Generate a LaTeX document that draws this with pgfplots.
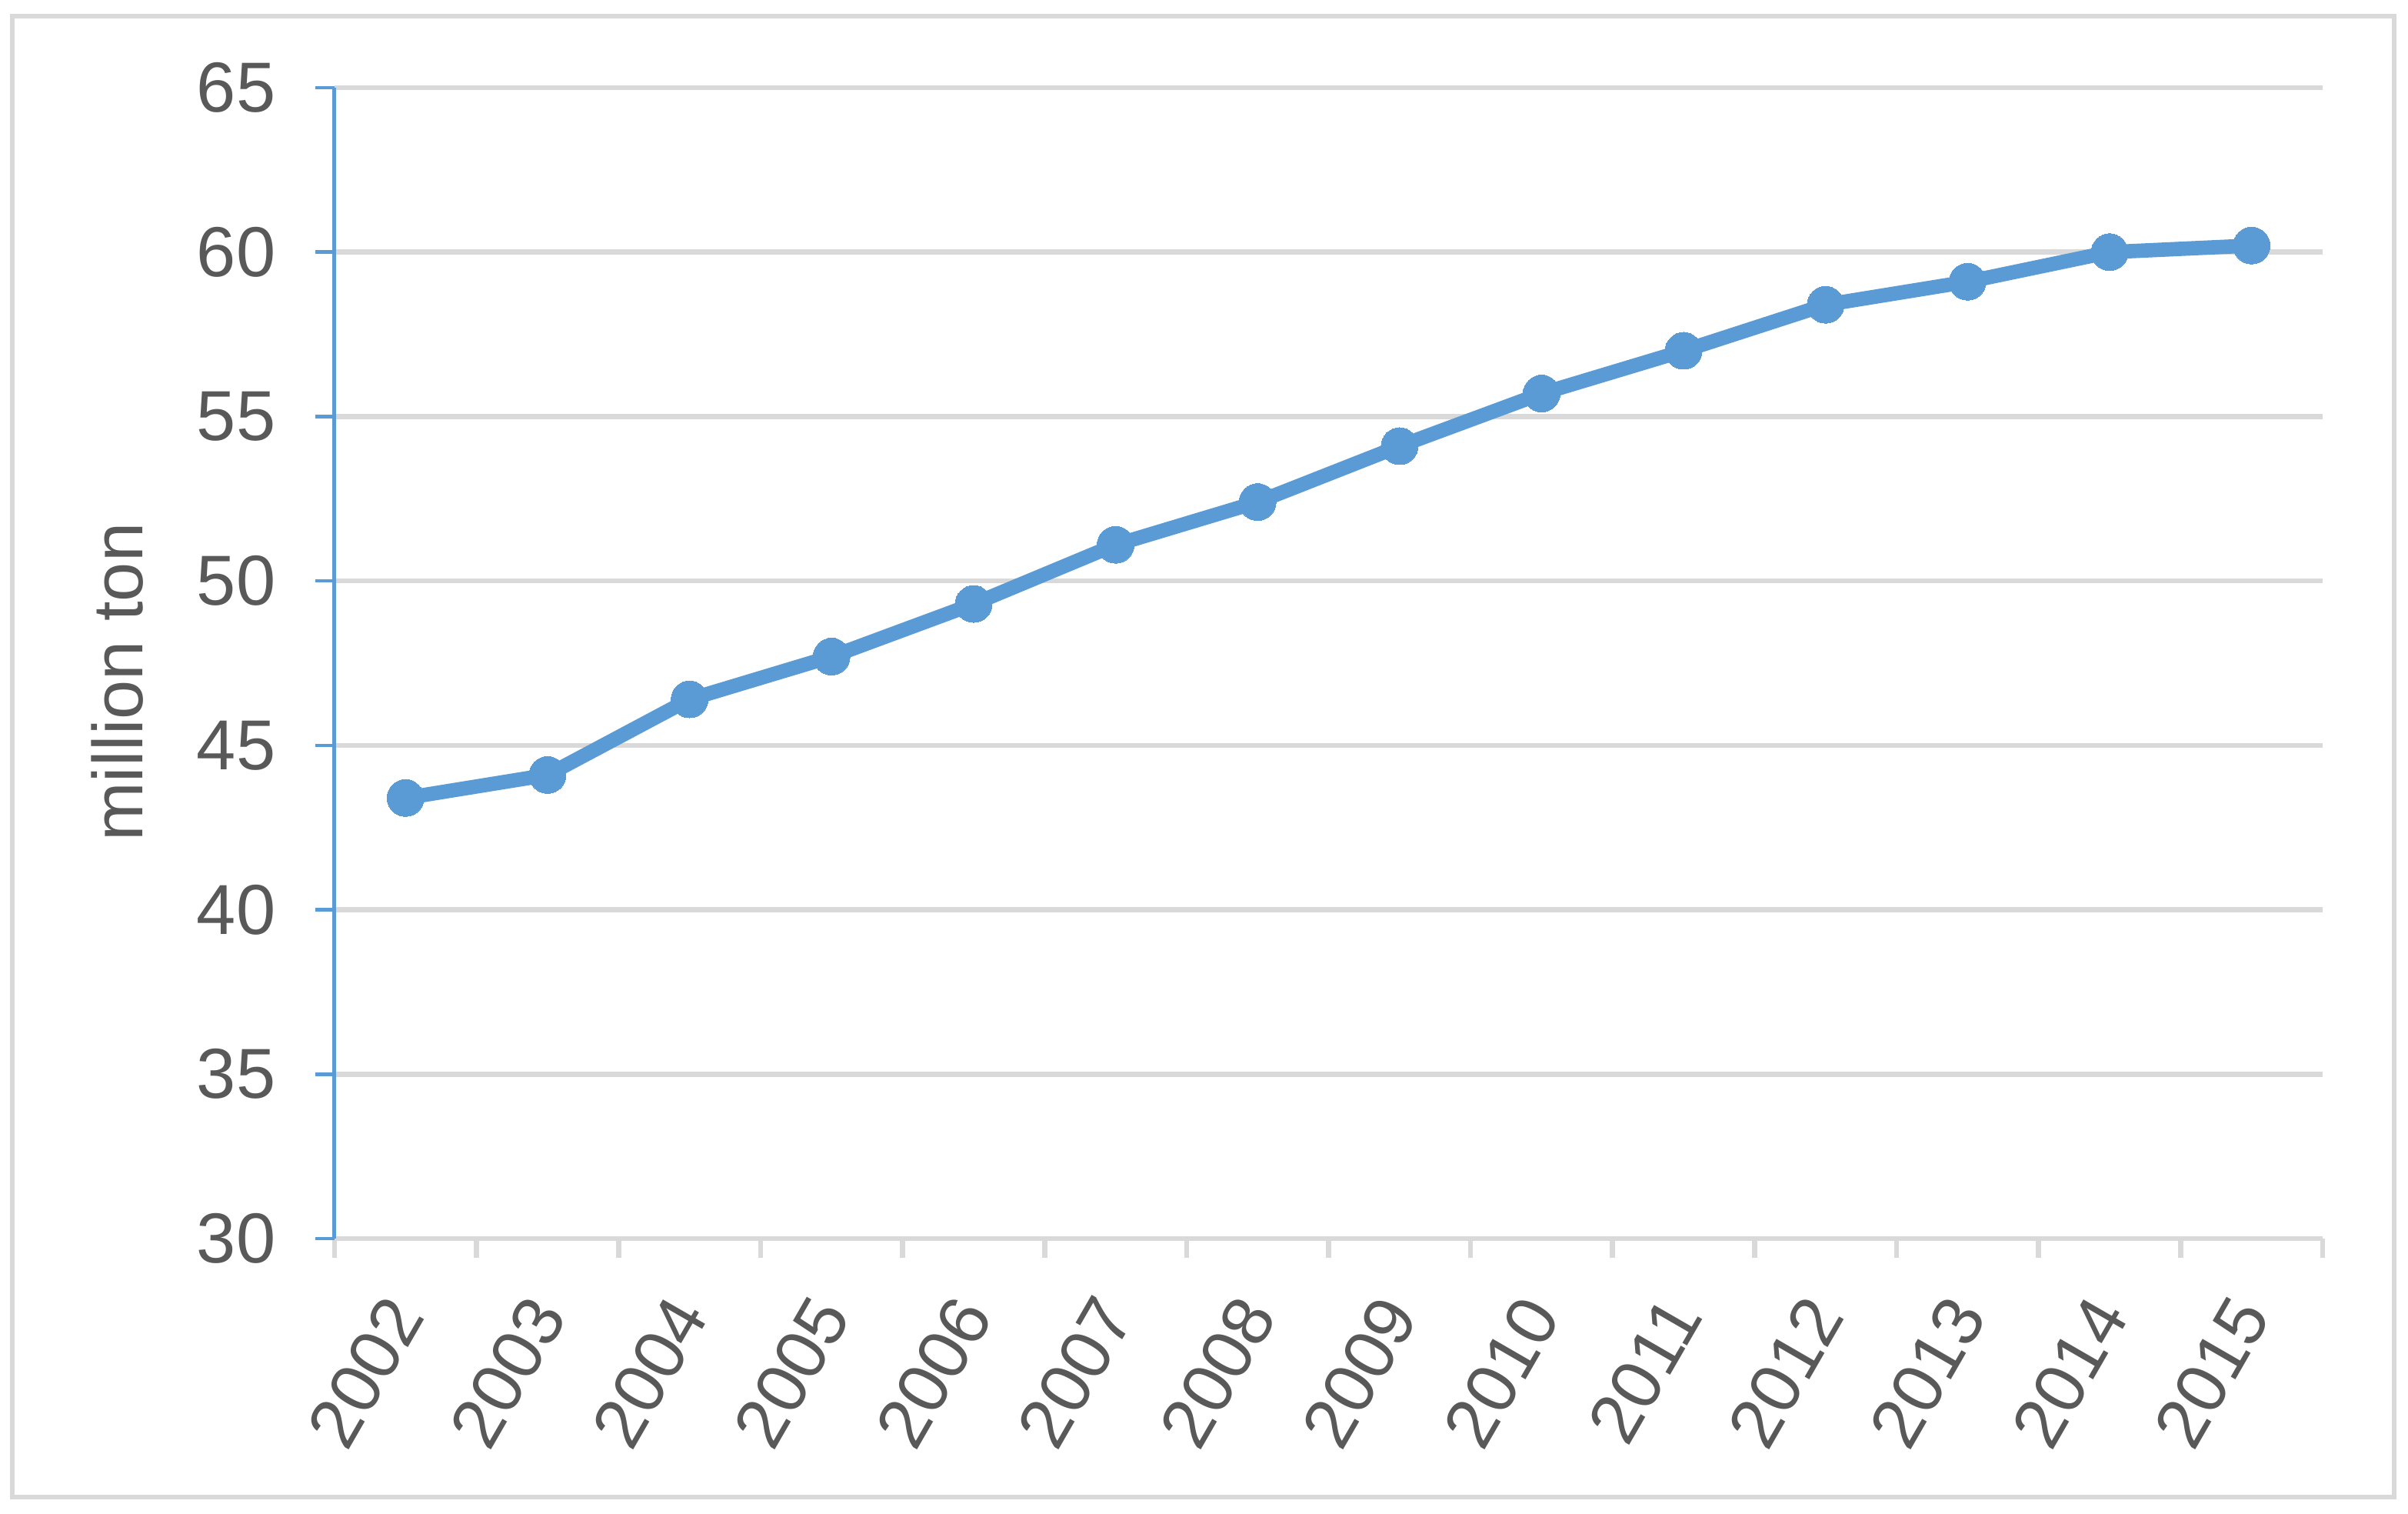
\documentclass[border=0pt]{standalone}
\usepackage{pgfplots}
\pgfplotsset{compat=1.18}
\usepackage{fontspec}
\setmainfont{Liberation Sans}
\definecolor{lineblue}{HTML}{5B9BD5}
\definecolor{gridgray}{HTML}{D9D9D9}
\definecolor{txtgray}{HTML}{595959}
\begin{document}
\begin{tikzpicture}
\begin{axis}[
  at={(0,0)}, anchor=south west,
  scale only axis,
  width=387.75pt, height=224.4pt,
  xmin=-0.5, xmax=13.5,
  ymin=30, ymax=65,
  ytick={30,35,...,65},
  xtick={-0.5,0.5,...,13.5},
  xticklabels={},
  extra x ticks={0,1,...,13},
  extra x tick labels={2002,2003,2004,2005,2006,2007,2008,2009,2010,2011,2012,2013,2014,2015},
  extra x tick style={major tick length=0pt, grid=none},
  axis lines*=left,
  x axis line style={-, draw=gridgray, line width=1pt},
  y axis line style={-, draw=lineblue, line width=0.75pt},
  tick align=outside,
  major tick length=3.8pt,
  xtick style={draw=gridgray, line width=1pt},
  ytick style={draw=lineblue, line width=0.7pt},
  ymajorgrids,
  grid style={draw=gridgray, line width=1pt},
  /pgf/number format/assume math mode=true,
  tick label style={font=\fontsize{13.8}{16}\selectfont, text=txtgray},
  yticklabel style={inner sep=0pt, xshift=-7.5pt},
  xticklabel style={yshift=-12.6pt, rotate=60, anchor=east, inner sep=0pt},
  every axis y label/.style={at={(axis description cs:-0.0967,0.4835)}, rotate=90, anchor=base, font=\fontsize{13.8}{16}\selectfont, text=txtgray},
  ylabel={million ton},
  clip=false,
]
\addplot[color=lineblue, line width=2.8pt, line join=round, mark=*, mark size=3.6pt, mark options={fill=lineblue, draw=lineblue, line width=0pt}]
coordinates {
(0,43.4) (1,44.1) (2,46.4) (3,47.7) (4,49.3) (5,51.1) (6,52.4) (7,54.1) (8,55.7) (9,57.0) (10,58.4) (11,59.1) (12,60.0) (13,60.2)
};
\end{axis}
\draw[gridgray, line width=1pt] (-62.85pt,-50.4pt) rectangle (401.7pt,238.35pt);
\useasboundingbox (-65.25pt,-53.7pt) rectangle (404.4pt,241.5pt);
\end{tikzpicture}
\end{document}
